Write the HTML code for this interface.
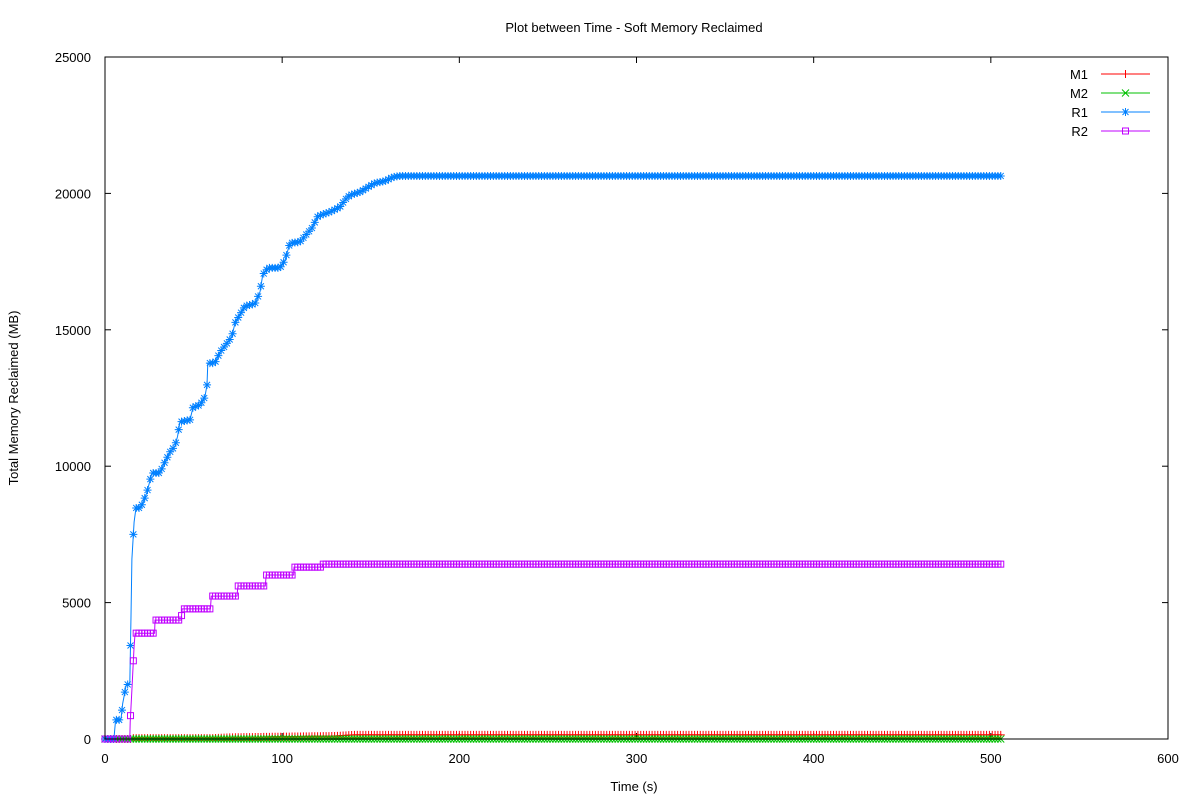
<!DOCTYPE html>
<html><head><meta charset="utf-8"><style>
html,body{margin:0;padding:0;background:#fff;}
svg{display:block;font-family:"Liberation Sans",sans-serif;}
</style></head><body>
<svg id="chart" width="1200" height="800" viewBox="0 0 1200 800" xmlns="http://www.w3.org/2000/svg">
<rect width="1200" height="800" fill="#fff"/>
<text x="634" y="32" font-size="13" text-anchor="middle" fill="#000">Plot between Time - Soft Memory Reclaimed</text>
<text x="634" y="791" font-size="13" text-anchor="middle" fill="#000">Time (s)</text>
<text x="18" y="398" font-size="13" text-anchor="middle" fill="#000" transform="rotate(-90 18 398)">Total Memory Reclaimed (MB)</text>
<g id="ticks"></g>
<g id="series"></g>
<rect x="105" y="57" width="1063" height="682" fill="none" stroke="#000" stroke-width="1"/>
<g id="legend"></g>
</svg>
<script>
const xTicks = [0,100,200,300,400,500,600];
const yTicks = [0,5000,10000,15000,20000,25000];
const seriesNames = ["M1","M2","R1","R2"];
const r1Times = [0,5,6,9,10,12,14,14.7,15.2,16.4,17.5,20,22,23.7,26.5,31,33,36.7,39.5,41,42.3,48,49.7,53.6,56.4,57.6,58,62,65,69.4,71.7,73.4,76,79,84.6,87.5,89,92,98.8,101.6,104.4,110,112.9,116.8,120.2,127,132.6,135.4,138.3,144,149.5,152.4,158,162.5,166.5,506];
const r1Vals = [0,0,700,700,1300,2000,2000,4500,6600,7950,8470,8470,8760,9050,9750,9750,10050,10520,10740,11100,11620,11700,12170,12240,12540,12980,13780,13780,14190,14550,14770,15250,15540,15870,15950,16390,17010,17270,17270,17560,18180,18220,18440,18730,19170,19320,19500,19760,19940,20050,20270,20380,20450,20600,20640,20640];
const r2Times = [0,14,14.2,15.2,16.4,17,28,28.2,43,43.5,59.5,60,74.5,75,90.5,91,106.5,106.7,122.5,123,506];
const r2Vals = [0,0,620,1800,3400,3880,3880,4360,4360,4770,4770,5240,5240,5610,5610,6010,6010,6300,6300,6410,6410];
const m1Times = [0,15,16,60,70,130,140,506];
const m1Vals = [0,0,30,30,60,110,150,150];
const m2Times = [0,506];
const m2Vals = [0,0];
const colors = {M1:"#ff0000",M2:"#00c000",R1:"#0080ff",R2:"#c000ff"};

const X0=105,X1=1168,Y0=739,Y1=57;
const xs = t => X0 + t/600*(X1-X0);
const ys = v => Y0 - v/25000*(Y0-Y1);
const NS="http://www.w3.org/2000/svg";
function mk(tag, attrs, parent){const e=document.createElementNS(NS,tag);for(const k in attrs)e.setAttribute(k,attrs[k]);parent.appendChild(e);return e;}

const tg=document.getElementById('ticks');
xTicks.forEach(t=>{
  const x=xs(t);
  const a=mk('line',{x1:x,y1:Y0,x2:x,y2:Y0-6,stroke:'#000'},tg);
  
  
  const b=mk('line',{x1:x,y1:Y1,x2:x,y2:Y1+6,stroke:'#000'},tg);
  
  
  const l=mk('text',{x:x,y:763,'font-size':13,'text-anchor':'middle'},tg);
  l.textContent=t;
  
  
});
yTicks.forEach(v=>{
  const y=ys(v);
  const a=mk('line',{x1:X0,y1:y,x2:X0+6,y2:y,stroke:'#000'},tg);
  
  
  const b=mk('line',{x1:X1,y1:y,x2:X1-6,y2:y,stroke:'#000'},tg);
  
  
  const l=mk('text',{x:91,y:y+5,'font-size':13,'text-anchor':'end'},tg);
  l.textContent=v;
  
  
});

function marker(kind,x,y,c,parent){
  const g=mk('g',{stroke:c,fill:'none','stroke-width':1},parent);
  if(kind==='M1'){mk('path',{d:`M${x-4} ${y}H${x+4}M${x} ${y-4}V${y+4}`},g);}
  else if(kind==='M2'){mk('path',{d:`M${x-3.5} ${y-3.5}L${x+3.5} ${y+3.5}M${x-3.5} ${y+3.5}L${x+3.5} ${y-3.5}`},g);}
  else if(kind==='R1'){mk('path',{d:`M${x-4} ${y}H${x+4}M${x} ${y-4}V${y+4}M${x-3} ${y-3}L${x+3} ${y+3}M${x-3} ${y+3}L${x+3} ${y-3}`},g);}
  else {mk('rect',{x:x-3,y:y-3,width:6,height:6},g);}
  return g;
}
function interp(ts,vs,t){
  for(let i=1;i<ts.length;i++){if(t<=ts[i]){const f=(t-ts[i-1])/((ts[i]-ts[i-1])||1);return vs[i-1]+f*(vs[i]-vs[i-1]);}}
  return vs[vs.length-1];
}
const sg=document.getElementById('series');
const data={M1:[m1Times,m1Vals],M2:[m2Times,m2Vals],R1:[r1Times,r1Vals],R2:[r2Times,r2Vals]};
seriesNames.forEach(n=>{
  const [ts,vs]=data[n];
  const c=colors[n];
  const pts=ts.map((t,i)=>xs(t).toFixed(1)+','+ys(vs[i]).toFixed(1)).join(' ');
  const pl=mk('polyline',{points:pts,fill:'none',stroke:c,'stroke-width':1},sg);
  
  
  const mg=mk('g',{},sg);
  
  
  const tEnd=ts[ts.length-1];
  for(let t=0;t<=tEnd;t+=1.6){
    const m=marker(n,xs(t),ys(interp(ts,vs,t)),c,mg);
    
    
  }
});

const lg=document.getElementById('legend');
seriesNames.forEach((n,i)=>{
  const y=74+i*19;
  const t=mk('text',{x:1088,y:y+5,'font-size':13,'text-anchor':'end'},lg);
  t.textContent=n;
  
  
  const l=mk('line',{x1:1101,y1:y,x2:1150,y2:y,stroke:colors[n]},lg);
  
  
  const m=marker(n,1125.5,y,colors[n],lg);
  
  
});
</script>
</body></html>
